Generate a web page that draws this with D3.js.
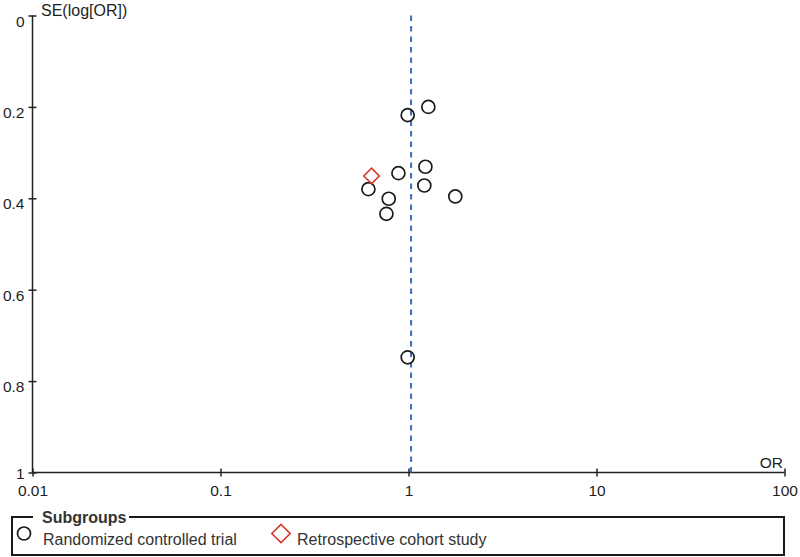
<!DOCTYPE html>
<html><head><meta charset="utf-8">
<script src="https://cdn.jsdelivr.net/npm/d3@7/dist/d3.min.js"></script>
<style>body{margin:0;background:#fff}svg{display:block;font-family:"Liberation Sans",Arial,sans-serif}</style>
</head><body><svg id="c" width="800" height="557"></svg>
<script>
// Data
const rctOR = [1.275, 0.99, 1.23, 0.884, 0.612, 1.214, 0.785, 1.774, 0.763, 0.99];
const rctSE = [0.200, 0.218, 0.331, 0.345, 0.380, 0.372, 0.401, 0.396, 0.434, 0.748];
const cohortOR = [0.636];
const cohortSE = [0.351];
const pooledOR = 1.032;
const xTicks = [0.01, 0.1, 1, 10, 100];
const xTickLabels = ["0.01", "0.1", "1", "10", "100"];
const yTicks = [0, 0.2, 0.4, 0.6, 0.8, 1];
const yTickLabels = ["0", "0.2", "0.4", "0.6", "0.8", "1"];
const legendLabels = ["Randomized controlled trial", "Retrospective cohort study"];

const svg = d3.select("#c");
const x = d3.scaleLog().domain([0.01, 100]).range([32.5, 784.5]);
const y = d3.scaleLinear().domain([0, 1]).range([15.5, 472.5]);
const axisColor = "#222";
const txt = "#1e1e1e";

// X axis
const xa = svg.append("g").attr("transform", `translate(0,${y(1)})`)
  .call(d3.axisBottom(x).tickValues(xTicks).tickFormat((d, i) => xTickLabels[i]).tickSize(4).tickPadding(8));
xa.select(".domain").attr("d", `M${x(0.01)},0H${x(100)}`).attr("stroke", axisColor).attr("stroke-width", 1.5);
xa.selectAll(".tick line").attr("y1", -4).attr("y2", 4).attr("stroke", axisColor).attr("stroke-width", 1.5);
xa.selectAll(".tick text").attr("font-size", 15.5).attr("fill", txt).attr("font-family", "Liberation Sans, Arial, sans-serif");

// Y axis
const ya = svg.append("g").attr("transform", `translate(${x(0.01)},0)`)
  .call(d3.axisLeft(y).tickValues(yTicks).tickFormat((d, i) => yTickLabels[i]).tickSize(4).tickPadding(8));
ya.select(".domain").attr("d", `M0,${y(0)}V${y(1)}`).attr("stroke", axisColor).attr("stroke-width", 1.5);
ya.selectAll(".tick line").attr("x1", -4).attr("x2", 4).attr("stroke", axisColor).attr("stroke-width", 1.5);
ya.selectAll(".tick text").attr("font-size", 15.5).attr("fill", txt).attr("x", -8)
  .attr("dy", (d, i, n) => i === n.length - 1 ? "0.38em" : "0.68em")
  .attr("font-family", "Liberation Sans, Arial, sans-serif");

// axis titles
svg.append("text").attr("x", 41).attr("y", 16).attr("font-size", 16).attr("fill", txt).text("SE(log[OR])");
svg.append("text").attr("x", 783).attr("y", 468).attr("text-anchor", "end").attr("font-size", 15.5).attr("fill", txt).text("OR");

// pooled dashed line
svg.append("line").attr("x1", x(pooledOR)).attr("x2", x(pooledOR)).attr("y1", y(0)).attr("y2", y(1))
  .attr("stroke", "#3f6cc4").attr("stroke-width", 2).attr("stroke-dasharray", "5.5,5");

// RCT circles
const rct = rctOR.map((d, i) => ({or: d, se: rctSE[i]}));
svg.append("g").selectAll("circle").data(rct).join("circle")
  .attr("cx", d => x(d.or)).attr("cy", d => y(d.se)).attr("r", 6.5)
  .attr("fill", "none").attr("stroke", "#1a1a1a").attr("stroke-width", 1.7);

// Cohort diamonds
const coh = cohortOR.map((d, i) => ({or: d, se: cohortSE[i]}));
const dsym = d3.symbol().type(d3.symbolSquare).size(120);
svg.append("g").selectAll("path").data(coh).join("path")
  .attr("d", dsym).attr("transform", d => `translate(${x(d.or)},${y(d.se)}) rotate(45)`)
  .attr("fill", "none").attr("stroke", "#d8362c").attr("stroke-width", 1.6);

// Legend box
const lg = svg.append("g");
const L = 12, R = 784, T = 517, B = 555;
lg.append("path").attr("d", `M33,${T}H${L}V${B}H${R}V${T}H129`).attr("fill", "none").attr("stroke", "#1a1a1a").attr("stroke-width", 2);
lg.append("text").attr("x", 42).attr("y", T + 5.5).attr("font-size", 16).attr("font-weight", "bold").attr("fill", "#333").text("Subgroups");
lg.append("circle").attr("cx", 24).attr("cy", 533.5).attr("r", 6.5).attr("fill", "none").attr("stroke", "#1a1a1a").attr("stroke-width", 1.7);
lg.append("text").attr("x", 43).attr("y", 545).attr("font-size", 16).attr("fill", "#333").text(legendLabels[0]);
lg.append("path").attr("d", d3.symbol().type(d3.symbolSquare).size(170)).attr("transform", "translate(281,533.5) rotate(45)").attr("fill", "none").attr("stroke", "#d8362c").attr("stroke-width", 1.6);
lg.append("text").attr("x", 297).attr("y", 545).attr("font-size", 16).attr("fill", "#333").text(legendLabels[1]);
</script></body></html>
